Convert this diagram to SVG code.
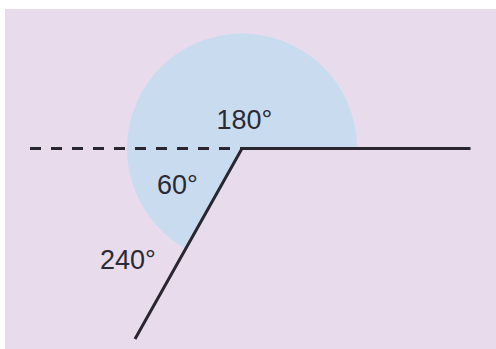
<svg xmlns="http://www.w3.org/2000/svg" width="496" height="349" viewBox="0 0 496 349">
  <style>
    .bg { fill: #e8dcec; }
    .sector { fill: #c9dcef; }
    .line { stroke: #2a2630; stroke-width: 3; fill: none; stroke-linejoin: miter; }
    .dash { stroke: #2a2630; stroke-width: 3; fill: none; stroke-dasharray: 11 10; }
    .lbl { font-family: "Liberation Sans", Arial, sans-serif; font-size: 27px; fill: #2b2a33; }
  </style>
  <rect x="0" y="0" width="496" height="349" fill="#ffffff"/>
  <rect class="bg" x="5" y="9" width="491" height="340"/>
  <g id="angle-sector">
    <path class="sector" d="M242,148.5 L357,148.5 A115,115 0 1 0 184.5,248.1 Z"/>
  </g>
  <g id="connectors">
    <line class="dash" x1="30" y1="148.5" x2="242" y2="148.5"/>
    <polyline class="line" points="470.5,148.5 242,148.5 135,339"/>
  </g>
  <g id="label-180">
    <text class="lbl" x="216.5" y="129">180°</text>
  </g>
  <g id="label-60">
    <text class="lbl" x="157" y="194">60°</text>
  </g>
  <g id="label-240">
    <text class="lbl" x="100" y="268.5">240°</text>
  </g>
</svg>
